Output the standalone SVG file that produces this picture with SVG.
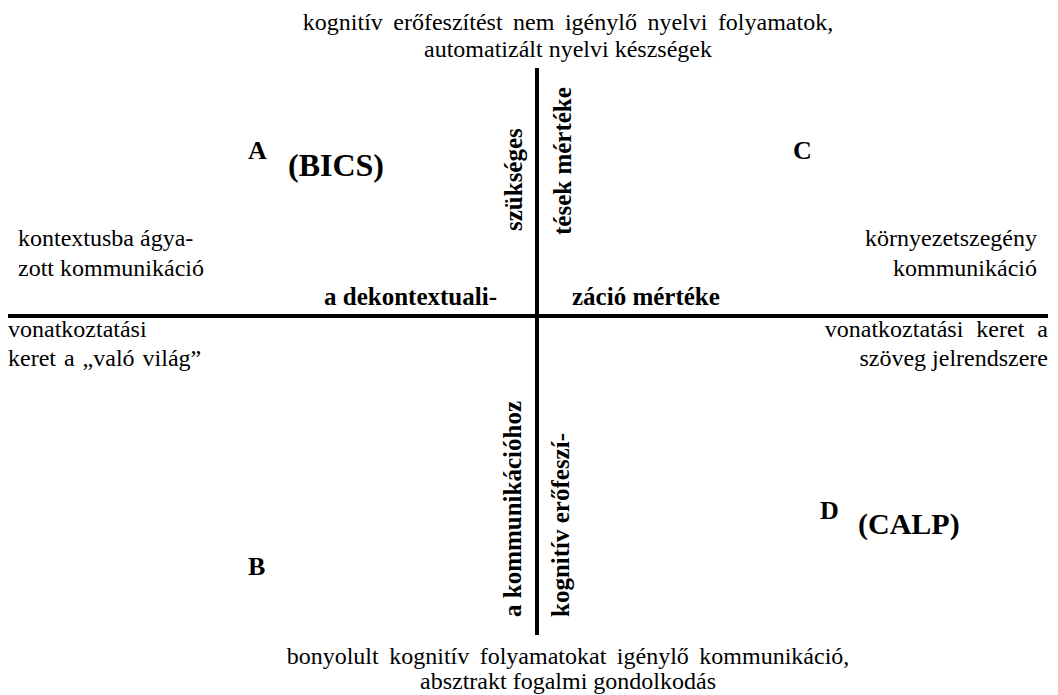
<svg xmlns="http://www.w3.org/2000/svg" width="1058" height="695" viewBox="0 0 1058 695">
<style>
.ax{stroke:#000;stroke-width:4;fill:none}
</style>
<rect width="1058" height="695" fill="#fff"/>
<g id="connectors">
<line class="ax" x1="537" y1="68" x2="537" y2="635"/>
<line class="ax" x1="8" y1="316" x2="1048" y2="316"/>
</g>
<g font-family="Liberation Serif, serif" font-size="24" fill="#000">
<g id="top">
<text x="568" y="30" text-anchor="middle" word-spacing="4.5">kognitív erőfeszítést nem igénylő nyelvi folyamatok,</text>
<text x="568" y="57" text-anchor="middle">automatizált nyelvi készségek</text>
</g>
<g id="bottom">
<text x="568" y="664" text-anchor="middle" word-spacing="4.5">bonyolult kognitív folyamatokat igénylő kommunikáció,</text>
<text x="568" y="689" text-anchor="middle">absztrakt fogalmi gondolkodás</text>
</g>
<g id="left">
<text x="18" y="246">kontextusba ágya-</text>
<text x="18" y="276">zott kommunikáció</text>
<text x="8" y="337">vonatkoztatási</text>
<text x="8" y="366" word-spacing="2">keret a „való világ”</text>
</g>
<g id="right">
<text x="1037" y="246" text-anchor="end">környezetszegény</text>
<text x="1037" y="276" text-anchor="end">kommunikáció</text>
<text x="1048" y="337" text-anchor="end" word-spacing="7">vonatkoztatási keret a</text>
<text x="1048" y="366" text-anchor="end">szöveg jelrendszere</text>
</g>
<g font-weight="bold">
<g id="quadA">
<text x="248" y="159" font-size="26">A</text>
<text x="288" y="176" font-size="32">(BICS)</text>
</g>
<g id="quadC">
<text x="793" y="159" font-size="26">C</text>
</g>
<g id="quadB">
<text x="248" y="575" font-size="26">B</text>
</g>
<g id="quadD">
<text x="820" y="519" font-size="26">D</text>
<text x="858" y="534" font-size="30">(CALP)</text>
</g>
<g id="axis-h" font-size="25">
<text x="497" y="305" text-anchor="end">a dekontextuali-</text>
<text x="572" y="305">záció mértéke</text>
</g>
<g id="axis-v" font-size="25">
<text transform="translate(522,231) rotate(-90)">szükséges</text>
<text transform="translate(571,235) rotate(-90)">tések mértéke</text>
<text transform="translate(521,617) rotate(-90)">a kommunikációhoz</text>
<text transform="translate(569,617) rotate(-90)">kognitív erőfeszí-</text>
</g>
</g>
</g>
</svg>
